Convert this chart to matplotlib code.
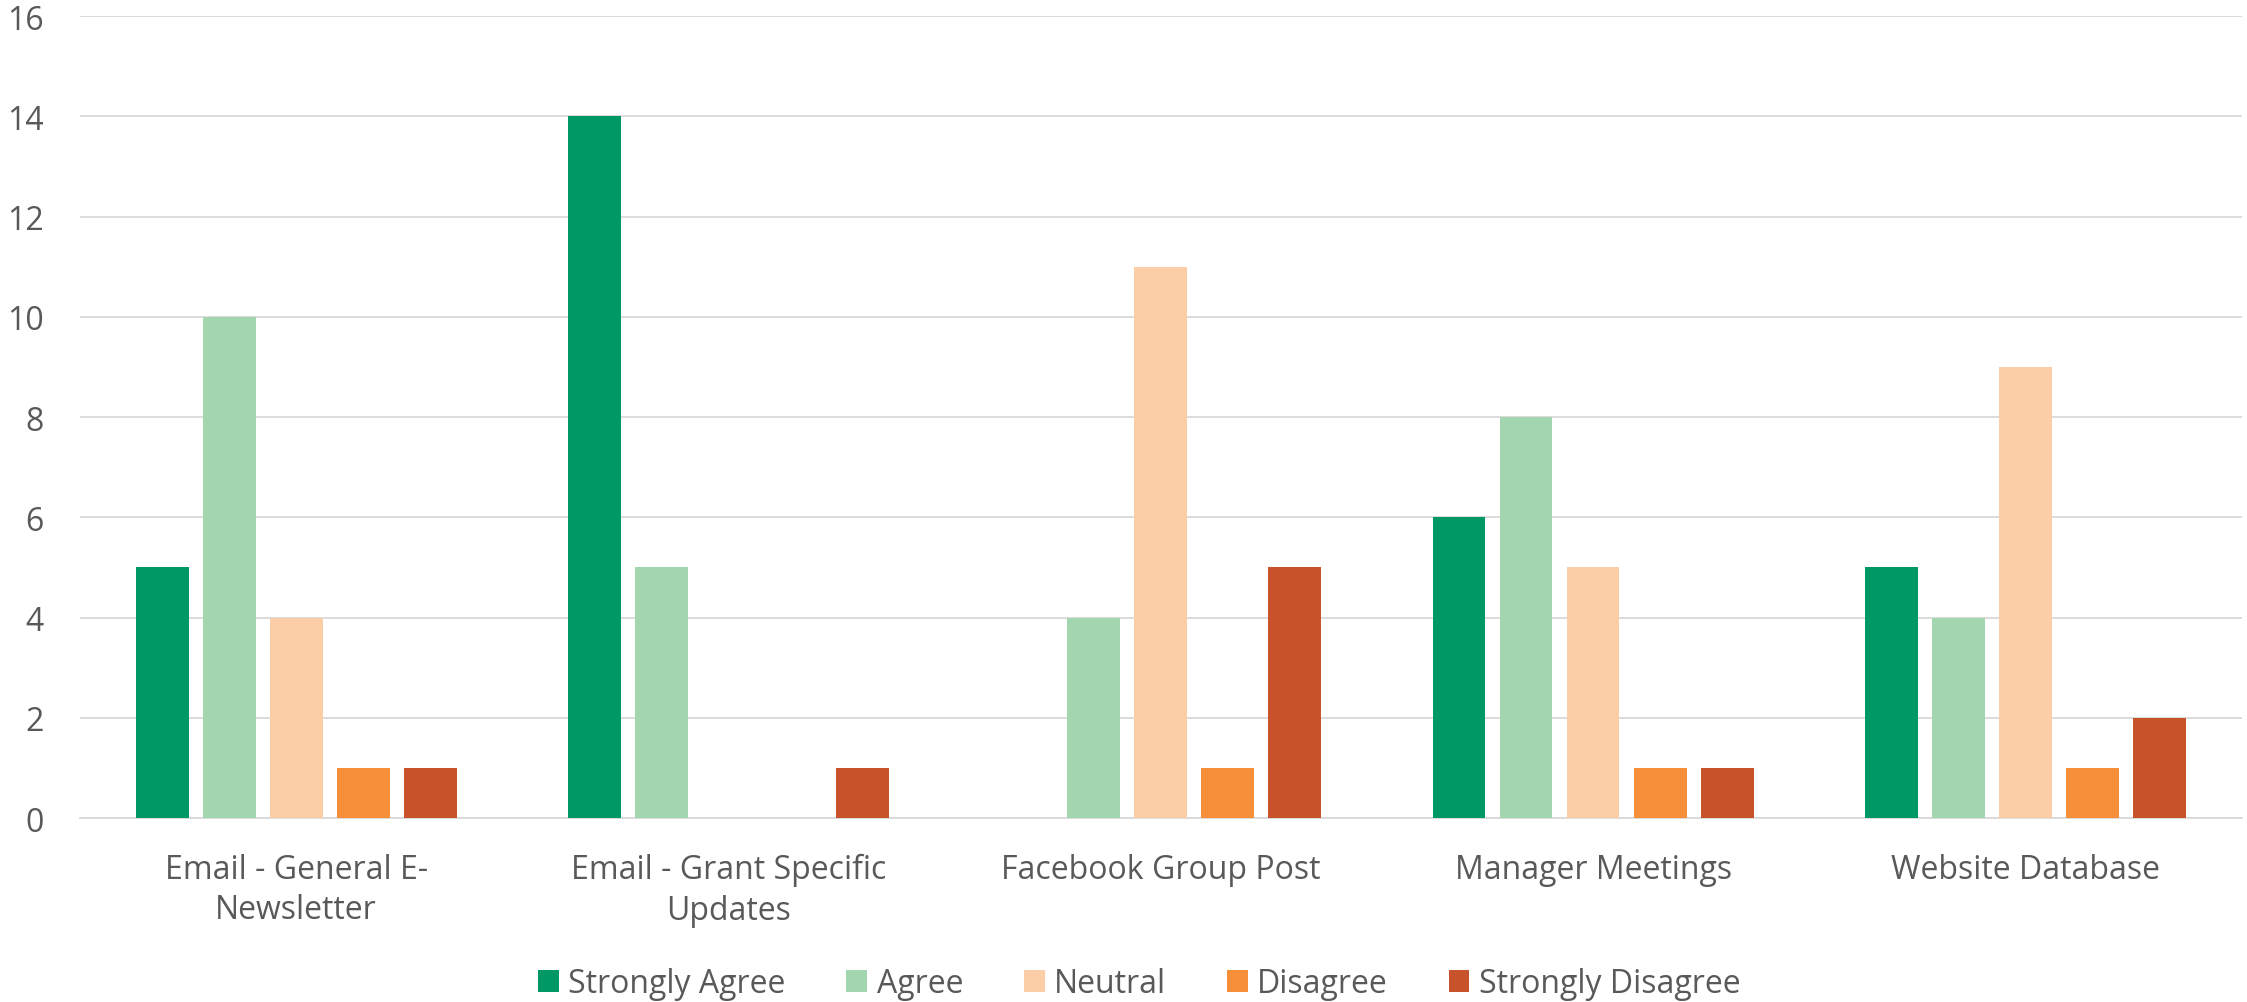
import matplotlib
matplotlib.use("Agg")
import matplotlib.pyplot as plt
import numpy as np

categories = ["Email - General E-\nNewsletter", "Email - Grant Specific\nUpdates",
              "Facebook Group Post", "Manager Meetings", "Website Database"]
series_names = ["Strongly Agree", "Agree", "Neutral", "Disagree", "Strongly Disagree"]
strongly_agree = [5, 14, 0, 6, 5]
agree = [10, 5, 4, 8, 4]
neutral = [4, 0, 11, 5, 9]
disagree = [1, 0, 1, 1, 1]
strongly_disagree = [1, 1, 5, 1, 2]
series = [strongly_agree, agree, neutral, disagree, strongly_disagree]
colors = ["#009966", "#A3D5AF", "#FCCEA7", "#F68E3A", "#C8532A"]

plt.rcParams['font.family'] = ['Open Sans', 'DejaVu Sans']
text_color = "#595959"
fs = 23

fig = plt.figure(figsize=(22.47, 10.03), dpi=100)
ax = fig.add_axes([0.0356, 0.1834, 0.962, 0.7996])

x = np.arange(len(categories))
width = 0.122
step = 0.155
for i, (name, vals, c) in enumerate(zip(series_names, series, colors)):
    ax.bar(x + (i - 2) * step, vals, width=width, color=c, label=name, zorder=3)

ax.set_xlim(-0.5, len(categories) - 0.5)
ax.set_ylim(0, 16)
ax.set_yticks(np.arange(0, 17, 2))
ax.set_xticks(x)
ax.set_xticklabels(categories, fontsize=fs, color=text_color, linespacing=1.3)
ax.tick_params(axis='y', labelsize=fs, labelcolor=text_color, length=0, pad=26)
ax.tick_params(axis='x', length=0, pad=25)
ax.grid(axis='y', color="#D9D9D9", linewidth=1.3, zorder=0)
for s in ["top", "right", "left"]:
    ax.spines[s].set_visible(False)
ax.spines["bottom"].set_color("#D9D9D9")
ax.spines["bottom"].set_linewidth(1.3)

leg = fig.legend(loc="lower center", bbox_to_anchor=(0.507, -0.027), ncol=5, frameon=False,
                 fontsize=fs, handlelength=0.65, handleheight=0.65, handletextpad=0.3,
                 columnspacing=1.9)
for t in leg.get_texts():
    t.set_color(text_color)

fig.savefig("out.png", dpi=100)
